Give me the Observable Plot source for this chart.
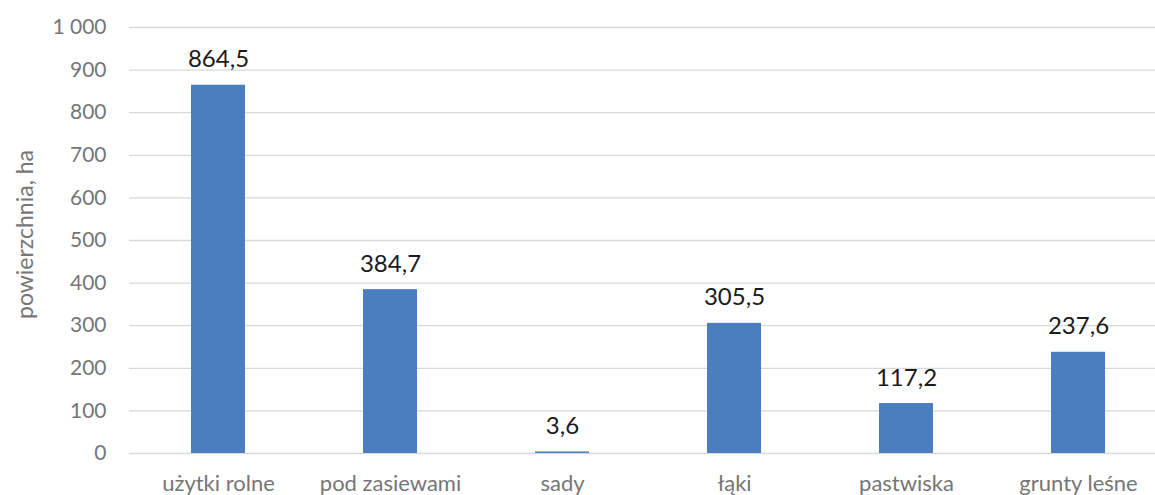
<!DOCTYPE html>
<html>
<head>
<meta charset="utf-8">
<script src="https://cdn.jsdelivr.net/npm/d3@7"></script>
<script src="https://cdn.jsdelivr.net/npm/@observablehq/plot@0.6"></script>
<style>
  html, body { margin: 0; padding: 0; background: #fff; overflow: hidden; }
  #chart svg { display: block; }
</style>
</head>
<body>
<div id="chart"></div>
<script>
const categories = ["użytki rolne", "pod zasiewami", "sady", "łąki", "pastwiska", "grunty leśne"];
const values = [864.5, 384.7, 3.6, 305.5, 117.2, 237.6];
const yTicks = [0, 100, 200, 300, 400, 500, 600, 700, 800, 900, 1000];
const yTickLabels = ["0", "100", "200", "300", "400", "500", "600", "700", "800", "900", "1 000"];
const yLabel = "powierzchnia, ha";

const data = categories.map((c, i) => ({cat: c, v: values[i], label: values[i].toFixed(1).replace(".", ",")}));
const FONT = "Lato, 'Open Sans', sans-serif";

const chart = Plot.plot({
  width: 1155,
  height: 495,
  marginTop: 27,
  marginBottom: 42,
  marginLeft: 129,
  marginRight: 0,
  style: {fontFamily: FONT, background: "#fff", overflow: "hidden"},
  x: {domain: categories, range: [129, 1166.5], paddingInner: 0.688, paddingOuter: 0.344, align: 0.5},
  y: {domain: [0, 1000]},
  marks: [
    Plot.ruleY(yTicks, {stroke: "#d9d9d9", strokeWidth: 1.3}),
    Plot.barY(data, {x: "cat", y: "v", fill: "#4a7ebf"}),
    Plot.text(data, {x: "cat", y: "v", text: "label", lineAnchor: "bottom", dy: -18, fontSize: 24, fill: "#1a1a1a"}),
    Plot.axisY({ticks: yTicks, tickFormat: d => yTickLabels[yTicks.indexOf(d)], tickSize: 0, tickPadding: 23, fontSize: 21, fill: "#767676", label: null}),
    Plot.axisX({tickSize: 0, tickPadding: 22, fontSize: 22, fill: "#767676", label: null}),
    Plot.text([yLabel], {frameAnchor: "left", textAnchor: "middle", dx: -97, dy: -6, rotate: -90, fontSize: 23, fill: "#767676", lineAnchor: "bottom"})
  ]
});
document.getElementById("chart").appendChild(chart);
</script>
</body>
</html>
